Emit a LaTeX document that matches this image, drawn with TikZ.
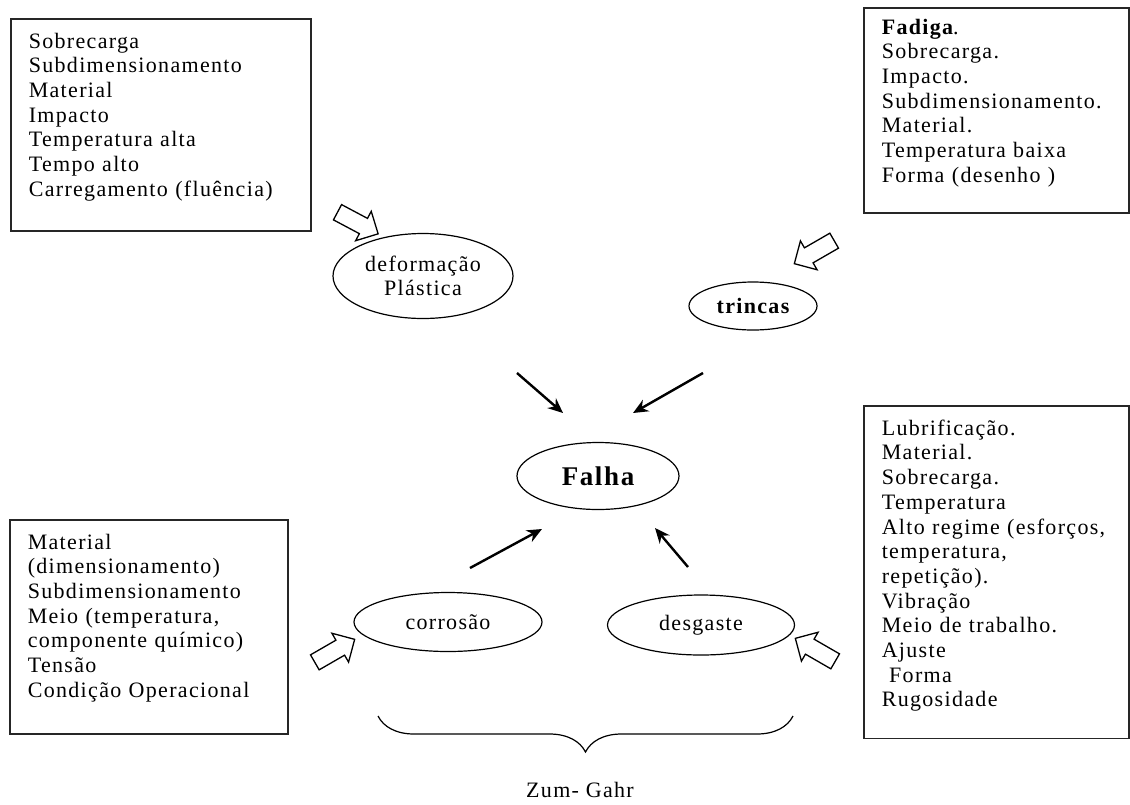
\documentclass[tikz,border=0pt]{standalone}
\usepackage{fontspec}
\setmainfont{Liberation Serif}[LetterSpace=6]
\usetikzlibrary{shapes.geometric,shapes.arrows,arrows.meta,decorations.pathreplacing}

\tikzset{
  causebox/.style={draw=black!85, line width=1.6pt, anchor=north west, align=left,
    inner xsep=18pt, inner ysep=14pt, font=\fontsize{22}{24.7}\selectfont},
  failmode/.style={draw, ellipse, line width=1.2pt, inner sep=0pt, align=center,
    font=\fontsize{22}{24.7}\selectfont},
  hollowarrow/.style={draw, single arrow, line width=1.3pt, minimum height=46pt,
    text height=8pt, text depth=8pt, single arrow head extend=8pt, inner sep=0pt},
  solidarrow/.style={line width=2.4pt, -{Stealth[length=15pt,width=13pt]}}
}

\begin{document}
\begin{tikzpicture}[x=1pt,y=-1pt]
        \useasboundingbox (0,0) rectangle (1130,804);

        % Boxes with the causes
        \node[causebox, text width=264pt, text depth=169pt] (tlbox) at (10,18)
            {Sobrecarga\\Subdimensionamento\\Material\\Impacto\\Temperatura alta\\Tempo alto\\Carregamento (fluência)};
        \node[causebox, text width=229pt, text depth=168pt, inner ysep=11pt] (trbox) at (863,7)
            {\textbf{Fadiga}.\\Sobrecarga.\\Impacto.\\Subdimensionamento.\\Material.\\Temperatura baixa\\Forma (desenho )};
        \node[causebox, text width=242pt, text depth=171pt] (blbox) at (9,519)
            {Material\\(dimensionamento)\\Subdimensionamento\\Meio (temperatura,\\componente químico)\\Tensão\\Condição Operacional};
        \node[causebox, text width=229pt, text depth=289pt] (brbox) at (863,405)
            {Lubrificação.\\Material.\\Sobrecarga.\\Temperatura\\Alto regime (esforços,\\temperatura,\\repetição).\\Vibração\\Meio de trabalho.\\Ajuste\\\ Forma\\Rugosidade};

        % Failure modes
        \node[failmode, minimum width=180pt, minimum height=85pt] (deform) at (423,276) {deformação\\Plástica};
        \node[failmode, minimum width=128pt, minimum height=48pt] (trincas) at (753,306) {\bfseries trincas};
        \node[failmode, minimum width=162pt, minimum height=67pt] (falha) at (598,476) {\fontsize{27}{30}\selectfont\bfseries Falha};
        \node[failmode, minimum width=188pt, minimum height=59pt] (corrosao) at (448,622) {corrosão};
        \node[failmode, minimum width=187pt, minimum height=60pt] (desgaste) at (701,625) {desgaste};

        % Hollow arrows from the boxes
        \node[hollowarrow, rotate=-28] (hdeform) at (354,221) {};
        \node[hollowarrow, rotate=-150] (htrincas) at (818,250) {};
        \node[hollowarrow, rotate=30] (hcorrosao) at (331,653) {};
        \node[hollowarrow, rotate=150] (hdesgaste) at (819,652) {};

        % Arrows towards the failure
        \coordinate (adeform) at (517,373);
        \coordinate (bdeform) at (563,413);
        \coordinate (atrincas) at (703,373);
        \coordinate (btrincas) at (633,413);
        \coordinate (acorrosao) at (470,568);
        \coordinate (bcorrosao) at (542,529);
        \coordinate (adesgaste) at (688,567);
        \coordinate (bdesgaste) at (655,528);
        \draw[solidarrow] (adeform) -- (bdeform);
        \draw[solidarrow] (atrincas) -- (btrincas);
        \draw[solidarrow] (acorrosao) -- (bcorrosao);
        \draw[solidarrow] (adesgaste) -- (bdesgaste);

        % Brace under the wear modes
        \coordinate (braceleft) at (378,716);
        \coordinate (braceright) at (793,716);
        \draw[line width=1.2pt, decorate, decoration={brace, mirror, amplitude=36pt}] (braceleft) -- (braceright);
        \node[font=\fontsize{22}{24.7}\selectfont] (zumgahr) at (580,790) {Zum- Gahr};
\end{tikzpicture}
\end{document}
